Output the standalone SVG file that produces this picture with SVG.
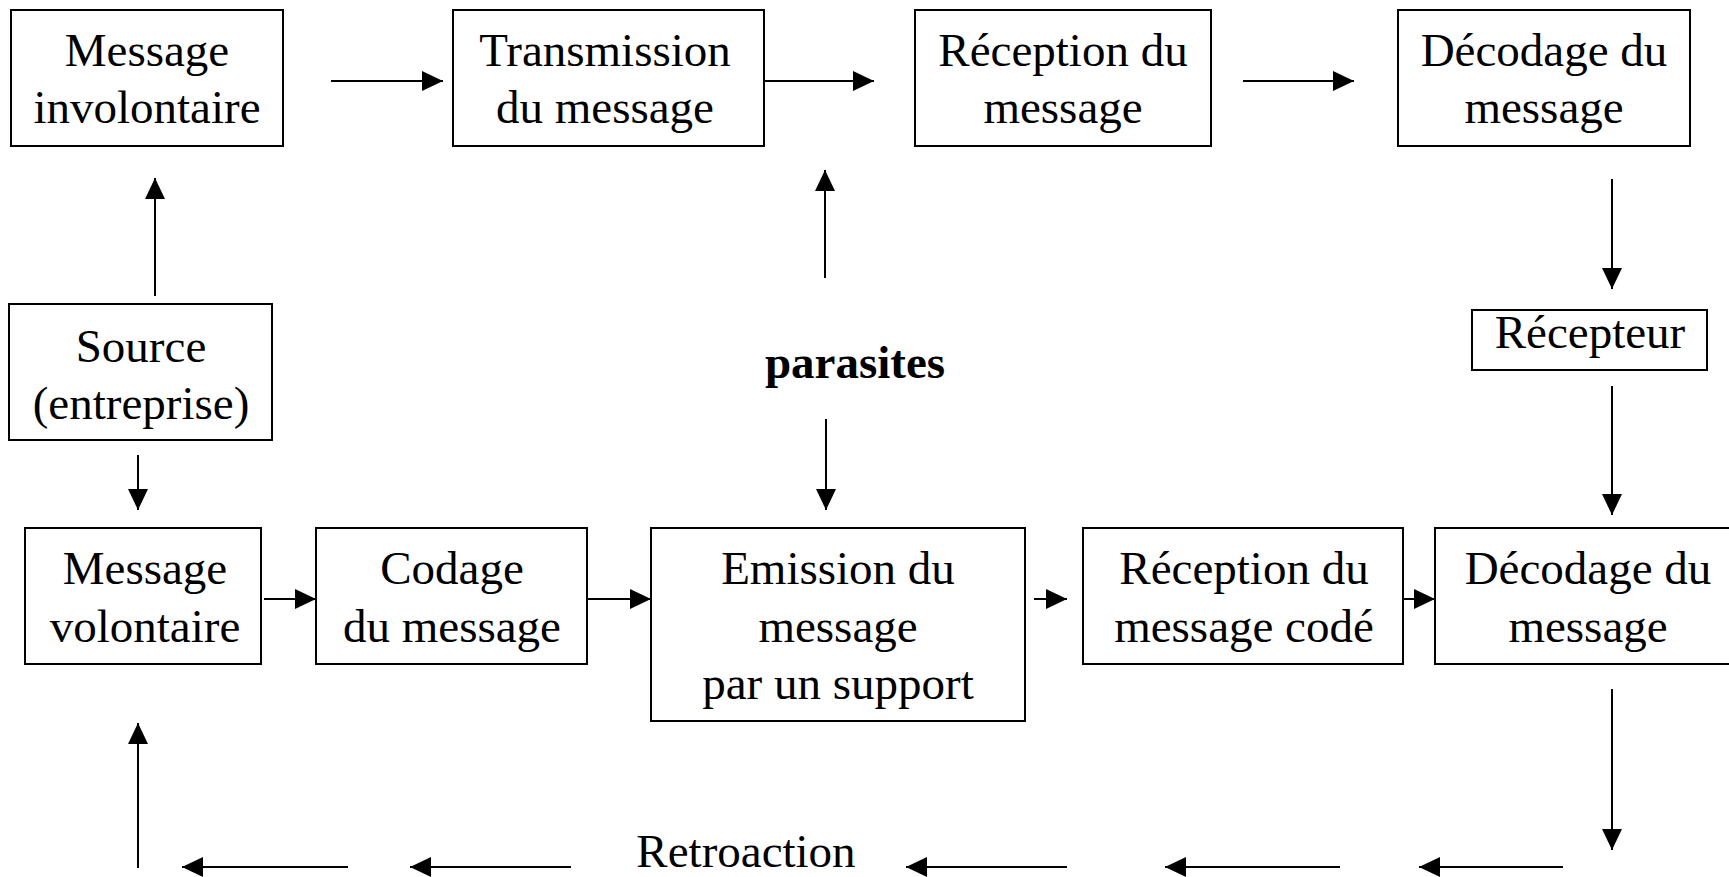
<svg xmlns="http://www.w3.org/2000/svg" width="1729" height="877" viewBox="0 0 1729 877">
<style>
.box{fill:#fff;stroke:#000;stroke-width:2}
.t{font-family:"Liberation Serif","Times New Roman",serif;font-size:47px;fill:#000;text-anchor:middle}
.b{font-weight:bold}
.c line{stroke:#000;stroke-width:2;marker-end:url(#ah)}
</style>
<defs>
<marker id="ah" markerUnits="userSpaceOnUse" markerWidth="21" markerHeight="20" refX="21" refY="10" orient="auto">
<path d="M0,0 L21,10 L0,20 z" fill="#000"/>
</marker>
</defs>
<rect width="1729" height="877" fill="#fff"/>
<g id="n-involontaire"><rect class="box" x="11" y="10" width="272" height="136"/><text class="t" x="147" y="66">Message</text><text class="t" x="147" y="123">involontaire</text></g>
<g id="n-transmission"><rect class="box" x="453" y="10" width="311" height="136"/><text class="t" x="605" y="66">Transmission</text><text class="t" x="605" y="123">du message</text></g>
<g id="n-reception1"><rect class="box" x="915" y="10" width="296" height="136"/><text class="t" x="1063" y="66">Réception du</text><text class="t" x="1063" y="123">message</text></g>
<g id="n-decodage1"><rect class="box" x="1398" y="10" width="292" height="136"/><text class="t" x="1544" y="66">Décodage du</text><text class="t" x="1544" y="123">message</text></g>
<g id="n-source"><rect class="box" x="9" y="304" width="263" height="136"/><text class="t" x="141" y="362">Source</text><text class="t" x="141" y="419">(entreprise)</text></g>
<g id="n-parasites"><text class="t b" x="855" y="378">parasites</text></g>
<g id="n-recepteur"><rect class="box" x="1472" y="310" width="235" height="60"/><text class="t" x="1590" y="348">Récepteur</text></g>
<g id="n-volontaire"><rect class="box" x="25" y="528" width="236" height="136"/><text class="t" x="145" y="584">Message</text><text class="t" x="145" y="642">volontaire</text></g>
<g id="n-codage"><rect class="box" x="316" y="528" width="271" height="136"/><text class="t" x="452" y="584">Codage</text><text class="t" x="452" y="642">du message</text></g>
<g id="n-emission"><rect class="box" x="651" y="528" width="374" height="193"/><text class="t" x="838" y="584">Emission du</text><text class="t" x="838" y="642">message</text><text class="t" x="838" y="699">par un support</text></g>
<g id="n-reception2"><rect class="box" x="1083" y="528" width="320" height="136"/><text class="t" x="1244" y="584">Réception du</text><text class="t" x="1244" y="642">message codé</text></g>
<g id="n-decodage2"><rect class="box" x="1435" y="528" width="310" height="136"/><text class="t" x="1588" y="584">Décodage du</text><text class="t" x="1588" y="642">message</text></g>
<g id="n-retroaction"><text class="t" x="746" y="867">Retroaction</text></g>
<g id="connectors" class="c">
<line x1="331" y1="81" x2="443" y2="81"/>
<line x1="764" y1="81" x2="874" y2="81"/>
<line x1="1243" y1="81" x2="1354" y2="81"/>
<line x1="155" y1="296" x2="155" y2="178"/>
<line x1="825" y1="278" x2="825" y2="170"/>
<line x1="138" y1="455" x2="138" y2="510"/>
<line x1="826" y1="419" x2="826" y2="510"/>
<line x1="1612" y1="179" x2="1612" y2="289"/>
<line x1="1612" y1="386" x2="1612" y2="515"/>
<line x1="264" y1="599" x2="316" y2="599"/>
<line x1="588" y1="599" x2="651" y2="599"/>
<line x1="1034" y1="599" x2="1067" y2="599"/>
<line x1="1403" y1="599" x2="1435" y2="599"/>
<line x1="1612" y1="689" x2="1612" y2="850"/>
<line x1="1563" y1="867" x2="1419" y2="867"/>
<line x1="1340" y1="867" x2="1165" y2="867"/>
<line x1="1067" y1="867" x2="906" y2="867"/>
<line x1="571" y1="867" x2="410" y2="867"/>
<line x1="348" y1="867" x2="182" y2="867"/>
<line x1="138" y1="868" x2="138" y2="723"/>
</g>
</svg>
